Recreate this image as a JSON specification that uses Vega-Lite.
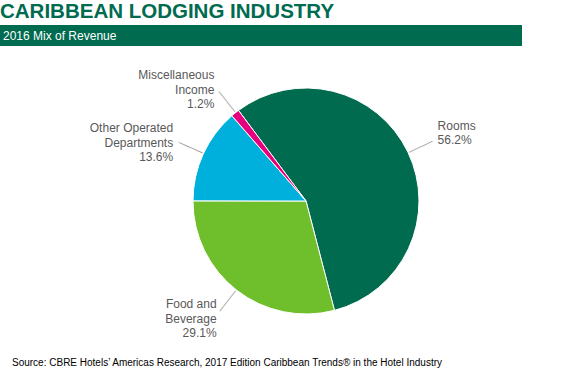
{
  "$schema": "https://vega.github.io/schema/vega-lite/v6.json",
  "background": "white",
  "padding": {"left": 0, "top": 1, "right": 0, "bottom": 0},
  "config": {"view": {"stroke": null}, "font": "Liberation Sans"},
  "title": {
    "text": "CARIBBEAN LODGING INDUSTRY",
    "anchor": "start",
    "frame": "group",
    "font": "Liberation Sans",
    "fontSize": 20.5,
    "fontWeight": "bold",
    "color": "#006B4F",
    "offset": 3
  },
  "datasets": {
    "mix": [
      {"segment": "Rooms", "name": "Rooms", "share": 0.562, "rank": 1},
      {"segment": "Food and Beverage", "name": "Food and\nBeverage", "share": 0.291, "rank": 2},
      {"segment": "Other Operated Departments", "name": "Other Operated\nDepartments", "share": 0.136, "rank": 3},
      {"segment": "Miscellaneous Income", "name": "Miscellaneous\nIncome", "share": 0.012, "rank": 4}
    ]
  },
  "spacing": 0,
  "vconcat": [
    {
      "width": 522,
      "height": 21,
      "view": {"fill": "#006B4F", "stroke": null},
      "data": {"values": [{"heading": "2016 Mix of Revenue"}]},
      "mark": {"type": "text", "align": "left", "baseline": "middle", "color": "white", "fontSize": 12, "dx": 3},
      "encoding": {
        "text": {"field": "heading"},
        "x": {"field": "heading", "type": "nominal", "axis": null, "scale": {"type": "point", "padding": 0, "align": 0}}
      }
    },
    {
      "spacing": 0,
      "title": {
        "text": "Source: CBRE Hotels’ Americas Research, 2017 Edition Caribbean Trends® in the Hotel Industry",
        "orient": "bottom",
        "anchor": "start",
        "frame": "group",
        "fontSize": 10,
        "fontWeight": "normal",
        "color": "#000000",
        "dx": 12,
        "offset": 2
      },
      "hconcat": [
        {
          "width": 46,
          "height": 310,
          "data": {"values": []},
          "mark": "point"
        },
        {
          "width": 520,
          "height": 310,
          "data": {"name": "mix"},
          "transform": [
            {"calculate": "datum.name + '\\n' + format(datum.share, '.1%')", "as": "label"}
          ],
          "encoding": {
            "theta": {"field": "share", "type": "quantitative", "stack": true, "scale": {"range": [-0.6405, 5.6427]}},
            "order": {"field": "rank", "type": "quantitative"},
            "color": {
              "field": "segment",
              "type": "nominal",
              "legend": null,
              "scale": {
                "domain": ["Rooms", "Food and Beverage", "Other Operated Departments", "Miscellaneous Income"],
                "range": ["#006B4F", "#6FBE2C", "#00B0DC", "#E6007E"]
              }
            }
          },
          "layer": [
            {"mark": {"type": "arc", "outerRadius": 113, "stroke": "white", "strokeWidth": 1}},
            {
              "mark": {
                "type": "text",
                "text": "——",
                "radius": 127,
                "baseline": "middle",
                "align": "center",
                "fontSize": 13,
                "angle": {"expr": "(-0.6405 + PI * (datum.share_start + datum.share_end) / 1.001) * 180 / PI - 90"}
              },
              "encoding": {"color": {"value": "#A6A6A6"}}
            },
            {
              "mark": {
                "type": "text",
                "radius": 146,
                "baseline": "middle",
                "align": {"expr": "sin(-0.6405 + PI * (datum.share_start + datum.share_end) / 1.001) > 0 ? 'left' : 'right'"},
                "dy": -12,
                "fontSize": 12,
                "lineHeight": 14.5,
                "lineBreak": "\n"
              },
              "encoding": {"text": {"field": "label"}, "color": {"value": "#595959"}}
            }
          ]
        }
      ]
    }
  ]
}
